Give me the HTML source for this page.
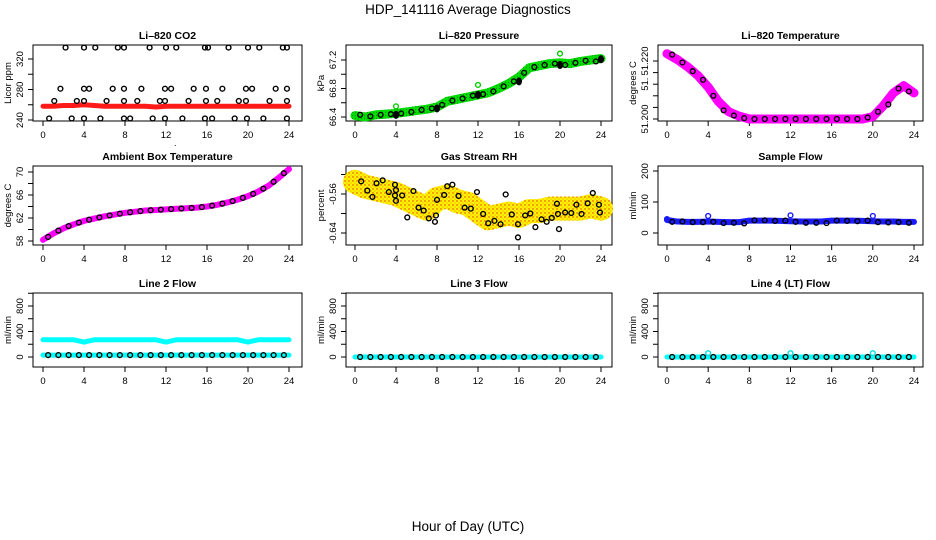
<!DOCTYPE html>
<html><head><meta charset="utf-8">
<style>
html,body{margin:0;padding:0;background:#fff;}
svg{display:block;font-family:"Liberation Sans",Arial,sans-serif;}
</style></head>
<body>
<svg id="chart" width="936" height="540" viewBox="0 0 936 540" xmlns="http://www.w3.org/2000/svg">
<defs>
<pattern id="rhpat" width="4" height="4" patternUnits="userSpaceOnUse">
<rect width="4" height="4" fill="#fff200"/><circle cx="1" cy="1" r="0.7" fill="#e03000"/><circle cx="3" cy="3" r="0.5" fill="#f08000"/>
</pattern>
<pattern id="grpat" width="3" height="3" patternUnits="userSpaceOnUse">
<rect width="3" height="3" fill="#00dd00"/><circle cx="1.5" cy="1.5" r="0.6" fill="#009900"/>
</pattern>
</defs>
<text x="468" y="14" text-anchor="middle" font-size="13.5">HDP_141116  Average Diagnostics</text>
<text x="468" y="531" text-anchor="middle" font-size="13.5">Hour of Day (UTC)</text>
</svg>
<script>
// ---- data ----
const hours = [0,1,2,3,4,5,6,7,8,9,10,11,12,13,14,15,16,17,18,19,20,21,22,23,24];
const halfHours = [0.5,1.5,2.5,3.5,4.5,5.5,6.5,7.5,8.5,9.5,10.5,11.5,12.5,13.5,14.5,15.5,16.5,17.5,18.5,19.5,20.5,21.5,22.5,23.5];
const xTicks = [0,4,8,12,16,20,24];

const co2Band = [258,258,259,259,260,259,258,258,258,258,258,257,258,258,258,258,258,258,258,258,258,258,258,258,258];
const co2HighX = [2.2,4,5.1,7.3,7.9,10.4,12,13,15.8,16.1,18.1,20,21.1,23.4,23.8];
const co2High = [335,335,335,335,335,335,335,335,335,335,335,335,335,335,335];
const co2MidX = [1.7,4,4.5,6.8,7.9,9.6,11.9,12.5,14.7,15.9,17.5,19.8,20.4,22.7,23.8];
const co2Mid = [281,281,281,281,281,281,281,281,281,281,281,281,281,281,281];
const co2LowX = [1.1,3.3,4,6.2,7.9,9.2,11.4,11.9,14.2,15.9,17,19.1,19.8,22.1,23.8];
const co2Low = [265,265,265,265,265,265,265,265,265,265,265,265,265,265,265];
const co2BotX = [0.6,2.8,4,5.6,7.9,8.5,10.7,11.9,13.6,15.8,16.5,18.7,19.9,21.5,23.8];
const co2Bot = [242,242,242,242,242,242,242,242,242,242,242,242,242,242,242];
const co2Ticks = [240,260,280,300,320];
const co2Labels = ["240","","280","","320"];

const pressBand = [66.42,66.40,66.43,66.44,66.45,66.47,66.49,66.51,66.54,66.62,66.65,66.68,66.71,66.74,66.80,66.87,66.96,67.09,67.12,67.15,67.16,67.15,67.18,67.20,67.22];
const pressBlack = [66.43,66.41,66.43,66.44,66.45,66.47,66.50,66.52,66.57,66.63,66.66,66.70,66.72,66.76,66.83,66.90,67.02,67.10,67.13,67.15,67.13,67.16,67.19,67.18];
const pressOutX = [4,12,20];
const pressOut = [66.55,66.85,67.29];
const pressTicks = [66.4,66.6,66.8,67.0,67.2];
const pressLabels = ["66.4","","66.8","","67.2"];

const tempBand = [51.2225,51.2205,51.218,51.215,51.211,51.206,51.2025,51.201,51.2,51.2,51.2,51.2,51.2,51.2,51.2,51.2,51.2,51.2,51.2,51.2,51.2008,51.2045,51.209,51.2115,51.209];
const tempBlack = [51.2222,51.2195,51.2165,51.2135,51.208,51.203,51.2012,51.2003,51.2,51.2,51.2,51.2,51.2,51.2,51.2,51.2,51.2,51.2,51.2,51.2005,51.2025,51.205,51.2105,51.2095];
const tempTicks = [51.200,51.204,51.208,51.212,51.216,51.220];
const tempLabels = ["51.200","","","51.","","51.220"];

const ambBand = [58.2,59.3,60.2,60.9,61.5,61.9,62.3,62.6,62.9,63.1,63.3,63.4,63.5,63.6,63.7,63.8,64.0,64.3,64.7,65.2,65.8,66.6,67.6,69.0,70.5];
const ambBlack = [58.7,59.8,60.6,61.2,61.7,62.1,62.45,62.75,63.0,63.2,63.35,63.45,63.55,63.65,63.75,63.9,64.15,64.5,64.95,65.5,66.2,67.1,68.3,69.8];
const ambTicks = [58,60,62,64,66,68,70];
const ambLabels = ["58","","62","","66","","70"];

const rhBand = [-0.535,-0.545,-0.55,-0.555,-0.56,-0.57,-0.58,-0.59,-0.57,-0.565,-0.575,-0.58,-0.595,-0.61,-0.605,-0.6,-0.605,-0.595,-0.595,-0.59,-0.59,-0.59,-0.59,-0.585,-0.59];
const rhX = [0.6,1.2,1.7,2.1,2.7,3.3,3.9,3.9,4,4,4.6,5.1,5.7,6.2,6.7,7.2,7.8,7.9,8,8.7,9,9.5,10.1,10.7,11.3,11.9,12.5,13,13.6,14.2,14.7,15.3,15.9,15.9,16.6,17.1,17.6,18.2,18.7,19.2,19.7,19.8,19.9,20.5,21.1,21.6,22.1,22.7,23.2,23.8,23.9];
const rhY = [-0.534,-0.553,-0.566,-0.538,-0.532,-0.556,-0.541,-0.563,-0.552,-0.574,-0.563,-0.608,-0.554,-0.588,-0.594,-0.610,-0.617,-0.604,-0.572,-0.562,-0.544,-0.541,-0.564,-0.588,-0.590,-0.556,-0.601,-0.620,-0.615,-0.622,-0.561,-0.602,-0.622,-0.649,-0.604,-0.600,-0.628,-0.612,-0.617,-0.609,-0.580,-0.601,-0.632,-0.598,-0.599,-0.582,-0.601,-0.579,-0.558,-0.582,-0.598];
const rhTicks = [-0.64,-0.60,-0.56,-0.52];
const rhLabels = ["-0.64","","-0.56",""];

const flowBand = [42,37,36,36,37,36,35,35,40,40,40,39,38,37,37,37,40,40,40,39,38,37,37,36,36];
const flowBlack = [36,37,35,35,36,32,33,31,41,41,39,40,36,33,33,32,40,39,38,40,35,34,35,33];
const flowOutX = [0,4,12,20];
const flowOut = [45,55,57,55];
const flowTicks = [0,100,200];
const flowLabels = ["0","100","200"];

const line2Top = [270,270,270,270,235,270,270,270,270,270,270,270,235,270,270,270,270,270,270,270,235,270,270,270,270];
const line2Low = [30,30,30,30,30,30,30,30,30,30,30,30,30,30,30,30,30,30,30,30,30,30,30,30,30];
const line2Black = [30,30,30,30,30,30,30,30,30,30,30,30,30,30,30,30,30,30,30,30,30,30,30,30];
const line3Band = [0,0,0,0,0,0,0,0,0,0,0,0,0,0,0,0,0,0,0,0,0,0,0,0,0];
const line3Black = [0,0,0,0,0,0,0,0,0,0,0,0,0,0,0,0,0,0,0,0,0,0,0,0];
const line4Band = [0,0,0,0,0,0,0,0,0,0,0,0,0,0,0,0,0,0,0,0,0,0,0,0,0];
const line4Black = [0,0,0,0,0,0,0,0,0,0,0,0,0,0,0,0,0,0,0,0,0,0,0,0];
const line4OutX = [4,12,20];
const line4Out = [60,60,60];
const lineTicks = [0,200,400,600,800,1000];
const lineLabels = ["0","","400","","800",""];

// ---- layout ----
const NS = "http://www.w3.org/2000/svg";
const svg = document.getElementById("chart");
const cols = [{L:33,R:302,x0:43,x24:289},{L:346,R:612,x0:355,x24:601},{L:658,R:923,x0:667,x24:914}];
const rows = [{T:45,B:121},{T:166,B:245},{T:293,B:367}];

function mk(tag, attrs, parent){
  const e = document.createElementNS(NS, tag);
  for (const k in attrs) e.setAttribute(k, attrs[k]);
  (parent||svg).appendChild(e);
  return e;
}

function panel(name, title, ylab, c, r, v1, p1, v2, p2, ticks, labels){
  const col = cols[c], row = rows[r];
  const g = mk("g", {});
  
  
  const xs = h => col.x0 + (col.x24 - col.x0) * h / 24;
  const ys = v => p1 + (v - v1) * (p2 - p1) / (v2 - v1);
  const t = mk("text", {x:(col.L+col.R)/2, y:row.T-6, "text-anchor":"middle", "font-size":"10.5", "font-weight":"bold"}, g);
  t.textContent = title;
  
  
  const box = mk("rect", {x:col.L, y:row.T, width:col.R-col.L, height:row.B-row.T, fill:"none", stroke:"#000", "stroke-width":"1"}, g);
  
  
  const xa = mk("g", {}, g);
  
  
  mk("line", {x1:xs(0), x2:xs(24), y1:row.B, y2:row.B, stroke:"#000"}, xa);
  xTicks.forEach(h => {
    mk("line", {x1:xs(h), x2:xs(h), y1:row.B, y2:row.B+5, stroke:"#000"}, xa);
    const l = mk("text", {x:xs(h), y:row.B+17, "text-anchor":"middle", "font-size":"9.5"}, xa);
    l.textContent = h;
  });
  const ya = mk("g", {}, g);
  
  
  ticks.forEach((v, i) => {
    const y = ys(v);
    mk("line", {x1:col.L-5, x2:col.L, y1:y, y2:y, stroke:"#000"}, ya);
    if (labels[i]) {
      const l = mk("text", {x:col.L-10, y:y, "text-anchor":"middle", "font-size":"9.5", transform:`rotate(-90 ${col.L-10} ${y})`}, ya);
      l.textContent = labels[i];
    }
  });
  const yl = mk("text", {x:col.L-22, y:(row.T+row.B)/2, "text-anchor":"middle", "font-size":"9.5", transform:`rotate(-90 ${col.L-22} ${(row.T+row.B)/2})`}, g);
  yl.textContent = ylab;
  
  
  const marks = mk("g", {}, g);
  
  
  return {xs, ys, g:marks};
}

function band(P, xsArr, vals, color, width, name){
  const pts = xsArr.map((h,i) => P.xs(h) + "," + P.ys(vals[i])).join(" ");
  const pl = mk("polyline", {points:pts, fill:"none", stroke:color, "stroke-width":width, "stroke-linejoin":"round", "stroke-linecap":"round"}, P.g);
  
  
}
function dots(P, xsArr, vals, color, name, r){
  xsArr.forEach((h,i) => {
    const c = mk("circle", {cx:P.xs(h), cy:P.ys(vals[i]), r:r||2.4, fill:"none", stroke:color, "stroke-width":"1.4"}, P.g);
    
    
  });
}
function blobs(P, xsArr, vals, name){
  xsArr.forEach((h,i) => {
    const c = mk("ellipse", {cx:P.xs(h), cy:P.ys(vals[i]), rx:3, ry:4, fill:"#000"}, P.g);
    
    
  });
}

// CO2
let P = panel("co2", "Li\u2013820 CO2", "Licor ppm", 0, 0, 240, 120, 320, 59, co2Ticks, co2Labels);
band(P, hours, co2Band, "#ff1a1a", 5, "co2-band");
dots(P, co2HighX, co2High, "#000", "co2-point");
dots(P, co2MidX, co2Mid, "#000", "co2-point");
dots(P, co2LowX, co2Low, "#000", "co2-point");
dots(P, co2BotX, co2Bot, "#000", "co2-point");
const dt = mk("text", {x:174, y:146, "font-size":"9"}); dt.textContent = ".";



// Pressure
P = panel("pressure", "Li\u2013820 Pressure", "kPa", 1, 0, 66.4, 117, 67.2, 60, pressTicks, pressLabels);
band(P, hours, pressBand, "url(#grpat)", 9, "pressure-band");
dots(P, halfHours, pressBlack, "#000", "pressure-point");
blobs(P, [4,8,12,16,20,24], [66.43,66.52,66.71,66.9,67.13,67.21], "pressure-blob");
dots(P, pressOutX, pressOut, "#00cc00", "pressure-outlier");

// Temperature
P = panel("li820-temp", "Li\u2013820 Temperature", "degrees C", 2, 0, 51.200, 119, 51.220, 61, tempTicks, tempLabels);
band(P, hours, tempBand, "#ff00ff", 9, "li820-temp-band");
dots(P, halfHours, tempBlack, "#000", "li820-temp-point");

// Ambient
P = panel("ambient", "Ambient Box Temperature", "degrees C", 0, 1, 58, 241, 70, 172, ambTicks, ambLabels);
band(P, hours, ambBand, "#ff00ff", 6, "ambient-band");
dots(P, halfHours, ambBlack, "#000", "ambient-point");

// RH
P = panel("rh", "Gas Stream RH", "percent", 1, 1, -0.64, 233, -0.56, 194, rhTicks, rhLabels);
band(P, hours, rhBand, "url(#rhpat)", 24, "rh-band");
dots(P, rhX, rhY, "#000", "rh-point");

// Sample flow
P = panel("sample-flow", "Sample Flow", "ml/min", 2, 1, 0, 233, 200, 171, flowTicks, flowLabels);
band(P, hours, flowBand, "#1a1aff", 6, "sample-flow-band");
dots(P, halfHours, flowBlack, "#000", "sample-flow-point");
dots(P, flowOutX, flowOut, "#1a1aff", "sample-flow-outlier");

// Line 2
P = panel("line2-flow", "Line 2 Flow", "ml/min", 0, 2, 0, 357, 800, 306, lineTicks, lineLabels);
band(P, hours, line2Top, "#00ffff", 5, "line2-upper-band");
band(P, hours, line2Low, "#00ffff", 5, "line2-lower-band");
dots(P, halfHours, line2Black, "#000", "line2-point");

// Line 3
P = panel("line3-flow", "Line 3 Flow", "ml/min", 1, 2, 0, 357, 800, 306, lineTicks, lineLabels);
band(P, hours, line3Band, "#00ffff", 5, "line3-band");
dots(P, halfHours, line3Black, "#000", "line3-point");

// Line 4
P = panel("line4-flow", "Line 4 (LT) Flow", "ml/min", 2, 2, 0, 357, 800, 306, lineTicks, lineLabels);
band(P, hours, line4Band, "#00ffff", 5, "line4-band");
dots(P, halfHours, line4Black, "#000", "line4-point");
dots(P, line4OutX, line4Out, "#00dddd", "line4-outlier");
</script>
</body></html>
